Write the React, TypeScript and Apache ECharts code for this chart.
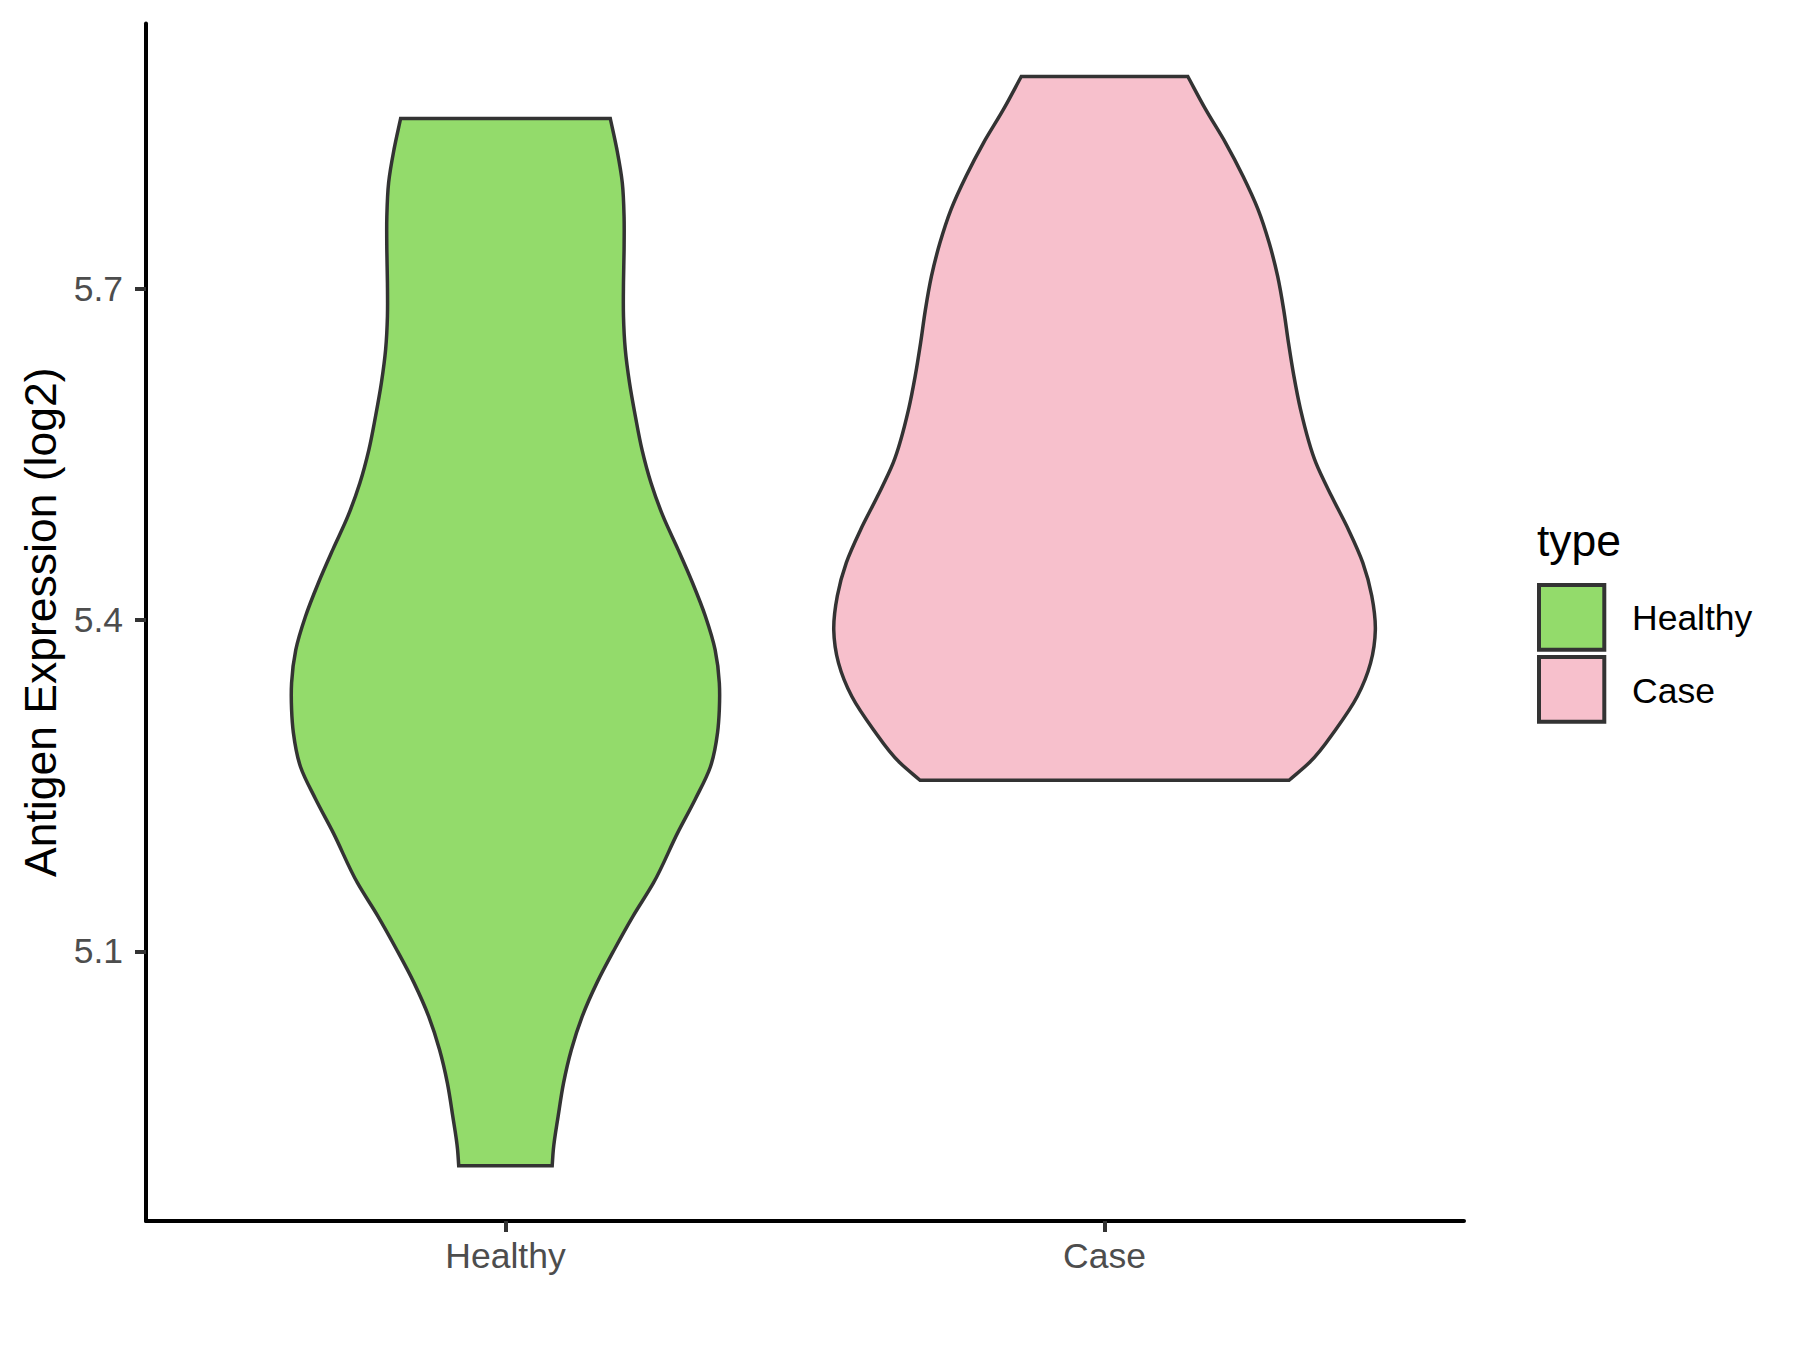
import React, { useEffect, useRef } from 'react';
import * as echarts from 'echarts';

// ---- Data ----
const categories = ['Healthy', 'Case'];

// Violin outline: expression values (top -> bottom) and half-widths (in category units)
const healthyValues = [5.854, 5.826, 5.796, 5.765, 5.735, 5.705, 5.675, 5.645, 5.615, 5.584, 5.554, 5.524, 5.494, 5.464, 5.434, 5.403, 5.373, 5.343, 5.319, 5.298, 5.267, 5.238, 5.208, 5.162, 5.132, 5.102, 5.072, 5.041, 5.011, 4.981, 4.951, 4.921, 4.906];
const healthyHalfWidths = [0.175, 0.186, 0.195, 0.198, 0.198, 0.197, 0.197, 0.200, 0.207, 0.217, 0.228, 0.243, 0.263, 0.288, 0.312, 0.334, 0.350, 0.357, 0.357, 0.354, 0.342, 0.317, 0.288, 0.247, 0.213, 0.182, 0.153, 0.128, 0.110, 0.097, 0.088, 0.080, 0.078];

const caseValues = [5.892, 5.862, 5.832, 5.802, 5.772, 5.741, 5.711, 5.681, 5.651, 5.621, 5.591, 5.542, 5.512, 5.482, 5.452, 5.422, 5.391, 5.361, 5.331, 5.301, 5.271, 5.255];
const caseHalfWidths = [0.139, 0.169, 0.202, 0.231, 0.256, 0.275, 0.289, 0.299, 0.307, 0.316, 0.327, 0.353, 0.379, 0.407, 0.431, 0.446, 0.452, 0.444, 0.422, 0.386, 0.342, 0.308];

const yTicks = [5.1, 5.4, 5.7];
const xTicks = [1, 2];
const yMin = 4.856;
const yMax = 5.940;
const xMin = 0.4;
const xMax = 2.6;
const fills = ['#93DB6B', '#F7C0CC'];
const legendTitle = 'type';
const yAxisTitle = 'Antigen Expression (log2)';

const FONT = '"Liberation Sans", Arial, Helvetica, sans-serif';

// Cubic Hermite through points where x is a function of y (handles uneven spacing)
function curveThrough(p: number[][]): string {
  const n = p.length;
  const slope = (a: number[], b: number[]) => (b[0] - a[0]) / (b[1] - a[1]);
  const m: number[] = [];
  for (let i = 0; i < n; i++) {
    if (i === 0) m.push(slope(p[0], p[1]));
    else if (i === n - 1) m.push(slope(p[n - 2], p[n - 1]));
    else {
      const h0 = p[i][1] - p[i - 1][1];
      const h1 = p[i + 1][1] - p[i][1];
      const d0 = slope(p[i - 1], p[i]);
      const d1 = slope(p[i], p[i + 1]);
      m.push((d0 * h1 + d1 * h0) / (h0 + h1));
    }
  }
  let s = '';
  for (let i = 0; i < n - 1; i++) {
    const h = p[i + 1][1] - p[i][1];
    const c1x = p[i][0] + (m[i] * h) / 3;
    const c1y = p[i][1] + h / 3;
    const c2x = p[i + 1][0] - (m[i + 1] * h) / 3;
    const c2y = p[i + 1][1] - h / 3;
    s += ` C${c1x},${c1y} ${c2x},${c2y} ${p[i + 1][0]},${p[i + 1][1]}`;
  }
  return s;
}

export default function App() {
  const ref = useRef<HTMLDivElement>(null);

  useEffect(() => {
    document.body.style.margin = '0';
    const chart = echarts.init(ref.current as HTMLDivElement, null, { renderer: 'svg' });

    const groups = [
      { name: categories[0], pos: 1, values: healthyValues, widths: healthyHalfWidths, fill: fills[0] },
      { name: categories[1], pos: 2, values: caseValues, widths: caseHalfWidths, fill: fills[1] },
    ];

    const series = groups.map((g) => ({
      type: 'custom',
      name: g.name,
      coordinateSystem: 'cartesian2d',
      data: [[g.pos, g.values[0]]],
      encode: { x: 0, y: 1 },
      clip: false,
      renderItem: (_params: any, api: any) => {
        const left = g.values.map((v, i) => api.coord([g.pos - g.widths[i], v]));
        const right = g.values.map((v, i) => api.coord([g.pos + g.widths[i], v])).reverse();
        const d =
          `M${left[0][0]},${left[0][1]}` +
          curveThrough(left) +
          ` L${right[0][0]},${right[0][1]}` +
          curveThrough(right) +
          ' Z';
        return {
          type: 'path',
          shape: { pathData: d },
          style: { fill: g.fill, stroke: '#333333', lineWidth: 3.5 },
        };
      },
    }));

    const legendX = 1537;
    const graphic: any[] = [
      {
        type: 'text',
        x: legendX,
        y: 540,
        style: { text: legendTitle, fontSize: 44.5, fontFamily: FONT, fill: '#000000', align: 'left', verticalAlign: 'middle' },
      },
    ];
    const keyTops = [585, 657];
    const labelYs = [618, 691];
    groups.forEach((g, i) => {
      graphic.push({
        type: 'rect',
        shape: { x: legendX + 2, y: keyTops[i], width: 65.3, height: 64.7 },
        style: { fill: g.fill, stroke: '#333333', lineWidth: 4 },
      });
      graphic.push({
        type: 'text',
        x: 1632,
        y: labelYs[i],
        style: { text: g.name, fontSize: 35.5, fontFamily: FONT, fill: '#000000', align: 'left', verticalAlign: 'middle' },
      });
    });

    chart.setOption({
      animation: false,
      backgroundColor: '#ffffff',
      grid: { left: 146, right: 336, top: 23.5, bottom: 129, containLabel: false },
      xAxis: {
        type: 'value',
        min: xMin,
        max: xMax,
        splitLine: { show: false },
        axisLine: { show: true, onZero: false, lineStyle: { color: '#000000', width: 4 } },
        axisTick: { show: true, length: 11, customValues: xTicks, lineStyle: { color: '#333333', width: 4 } },
        axisLabel: {
          customValues: xTicks,
          formatter: (v: number) => categories[Math.round(v) - 1],
          color: '#4D4D4D',
          fontSize: 35.5,
          fontFamily: FONT,
          margin: 17,
        },
      },
      yAxis: {
        type: 'value',
        min: yMin,
        max: yMax,
        splitLine: { show: false },
        axisLine: { show: true, onZero: false, lineStyle: { color: '#000000', width: 4 } },
        axisTick: { show: true, length: 11, customValues: yTicks, lineStyle: { color: '#333333', width: 4 } },
        axisLabel: {
          customValues: yTicks,
          formatter: (v: number) => v.toFixed(1),
          color: '#4D4D4D',
          fontSize: 35.5,
          fontFamily: FONT,
          margin: 23,
        },
        name: yAxisTitle,
        nameLocation: 'middle',
        nameGap: 74,
        nameTextStyle: { color: '#000000', fontSize: 44.5, fontFamily: FONT },
      },
      graphic,
      series,
    } as any);

    return () => {
      chart.dispose();
    };
  }, []);

  return <div ref={ref} style={{ width: 1800, height: 1350, position: 'absolute', left: 0, top: 0 }} />;
}
